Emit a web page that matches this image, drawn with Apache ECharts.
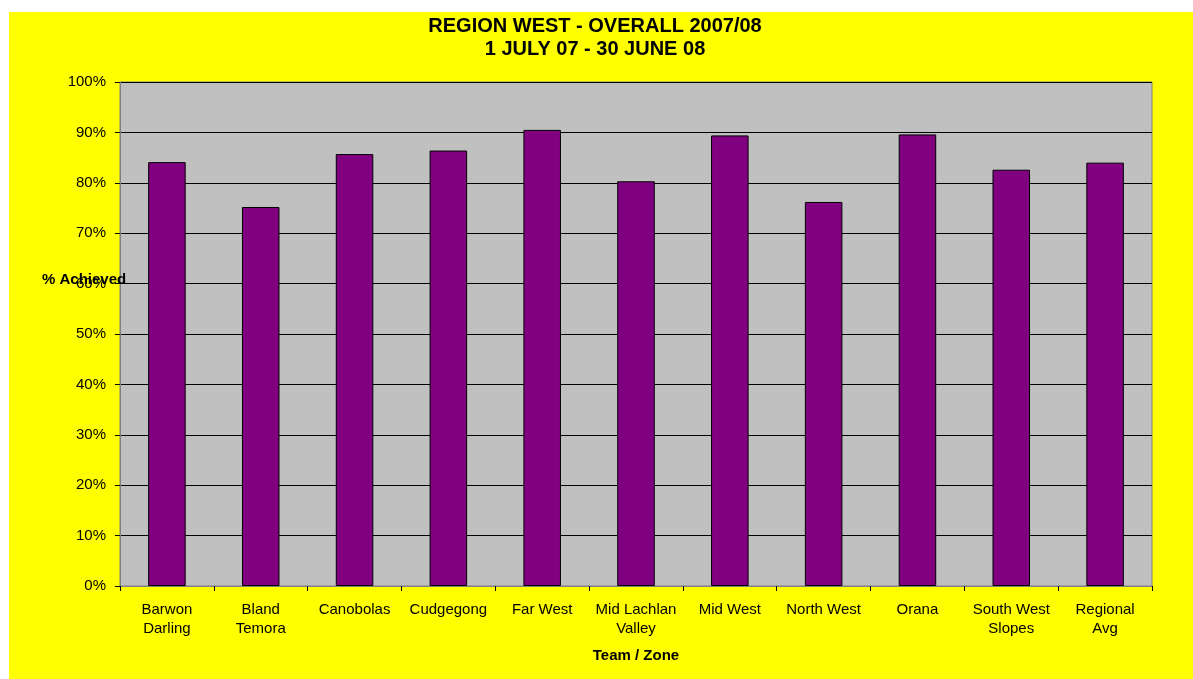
<!DOCTYPE html>
<html>
<head>
<meta charset="utf-8">
<script src="https://cdn.jsdelivr.net/npm/echarts@6/dist/echarts.min.js"></script>
<style>
    body { margin: 0; background: #ffffff; }
    #main { position: absolute; left: 9px; top: 12px; width: 1184px; height: 667px; background: #ffff00; }
</style>
</head>
<body>
<div id="main"></div>
<script>
// chart data
var zones = ['Barwon\nDarling', 'Bland\nTemora', 'Canobolas', 'Cudgegong', 'Far West',
    'Mid Lachlan\nValley', 'Mid West', 'North West', 'Orana', 'South West\nSlopes', 'Regional\nAvg'];
var achieved = [84.1, 75.2, 85.7, 86.4, 90.5, 80.3, 89.4, 76.2, 89.6, 82.6, 84.0];
var titleLines = ['REGION WEST - OVERALL 2007/08', '1 JULY 07 - 30 JUNE 08'];

var font = '"Liberation Sans", Arial, sans-serif';

var myChart = echarts.init(document.getElementById('main'));
var option = {
    backgroundColor: 'transparent',
    animation: false,
    graphic: [{
        type: 'text',
        x: 586,
        y: 14,
        style: {
            text: titleLines[0],
            fontFamily: font,
            fontSize: 20,
            fontWeight: 'bold',
            fill: '#000',
            textAlign: 'center',
            textVerticalAlign: 'middle'
        }
    }, {
        type: 'text',
        x: 586,
        y: 37,
        style: {
            text: titleLines[1],
            fontFamily: font,
            fontSize: 20,
            fontWeight: 'bold',
            fill: '#000',
            textAlign: 'center',
            textVerticalAlign: 'middle'
        }
    }, {
        type: 'text',
        x: 33,
        y: 268,
        z: 100,
        style: {
            text: '% Achieved',
            fontFamily: font,
            fontSize: 15,
            fontWeight: 'bold',
            fill: '#000',
            textAlign: 'left',
            textVerticalAlign: 'middle'
        }
    }],
    grid: {
        left: 111,
        right: 41,
        top: 70,
        bottom: 93,
        show: true,
        backgroundColor: '#c0c0c0',
        borderColor: '#808080',
        borderWidth: 1
    },
    xAxis: {
        type: 'category',
        data: zones,
        name: 'Team / Zone',
        nameLocation: 'middle',
        nameGap: 62,
        nameTextStyle: { fontFamily: font, fontSize: 15, fontWeight: 'bold', color: '#000' },
        axisLine: { lineStyle: { color: '#808080', width: 1 } },
        axisTick: { show: true, length: 5, lineStyle: { color: '#000' } },
        axisLabel: {
            interval: 0,
            margin: 14,
            fontFamily: font,
            fontSize: 15,
            lineHeight: 19,
            color: '#000'
        }
    },
    yAxis: {
        type: 'value',
        min: 0,
        max: 100,
        interval: 10,
        axisLine: { show: true, lineStyle: { color: '#808080', width: 1 } },
        axisTick: { show: true, length: 5, lineStyle: { color: '#000' } },
        axisLabel: {
            margin: 14,
            fontFamily: font,
            fontSize: 15,
            color: '#000',
            formatter: '{value}%'
        },
        splitLine: { show: true, lineStyle: { color: '#000', width: 1 } }
    },
    series: [{
        name: '% Achieved',
        type: 'bar',
        data: achieved,
        barCategoryGap: '60%',
        itemStyle: {
            color: '#800080',
            borderColor: '#000',
            borderWidth: 1
        }
    }]
};
myChart.setOption(option);
</script>
</body>
</html>
